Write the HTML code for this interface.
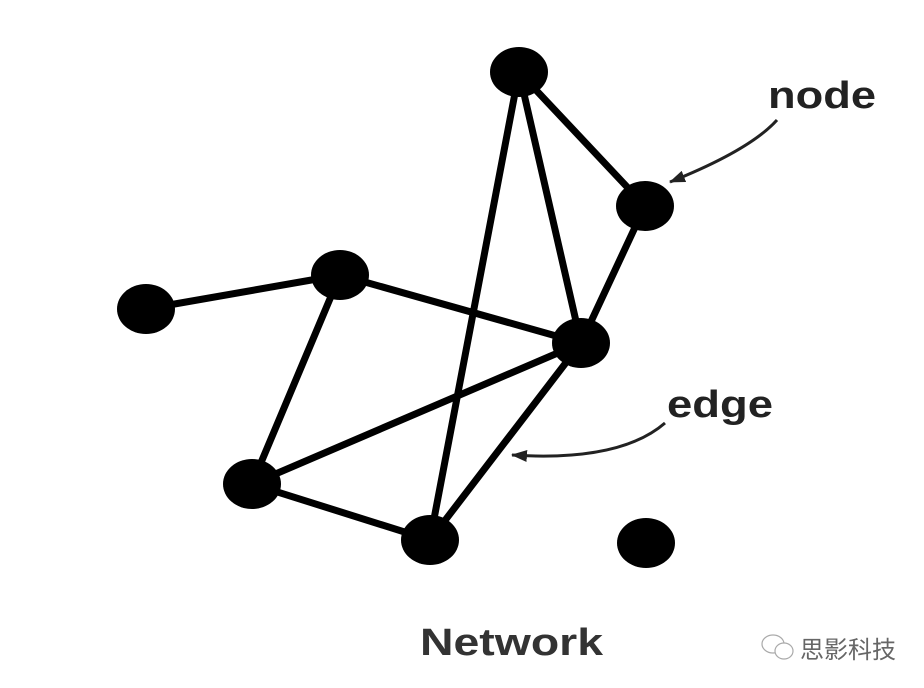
<!DOCTYPE html>
<html><head><meta charset="utf-8"><style>
html,body{margin:0;padding:0;background:#fff;width:924px;height:688px;overflow:hidden}
</style></head><body>
<svg width="924" height="688" viewBox="0 0 924 688" xmlns="http://www.w3.org/2000/svg">
<defs><marker id="ah" markerWidth="16" markerHeight="12" refX="15" refY="6" orient="auto" markerUnits="userSpaceOnUse">
<path d="M0,0 L16,6 L0,12 Z" fill="#222"/></marker></defs>
<g stroke="#000" stroke-width="7" stroke-linecap="round">
<line x1="519" y1="72" x2="645" y2="206"/>
<line x1="519" y1="72" x2="581" y2="343"/>
<line x1="519" y1="72" x2="430" y2="540"/>
<line x1="645" y1="206" x2="581" y2="343"/>
<line x1="340" y1="275" x2="146" y2="309"/>
<line x1="340" y1="275" x2="581" y2="343"/>
<line x1="340" y1="275" x2="252" y2="484"/>
<line x1="252" y1="484" x2="581" y2="343"/>
<line x1="252" y1="484" x2="430" y2="540"/>
<line x1="430" y1="540" x2="581" y2="343"/>
</g>
<g fill="#000">
<ellipse cx="519" cy="72" rx="29" ry="25"/>
<ellipse cx="645" cy="206" rx="29" ry="25"/>
<ellipse cx="340" cy="275" rx="29" ry="25"/>
<ellipse cx="146" cy="309" rx="29" ry="25"/>
<ellipse cx="581" cy="343" rx="29" ry="25"/>
<ellipse cx="252" cy="484" rx="29" ry="25"/>
<ellipse cx="430" cy="540" rx="29" ry="25"/>
<ellipse cx="646" cy="543" rx="29" ry="25"/>
</g>
<path d="M777,120 Q750,150 670,182" fill="none" stroke="#222" stroke-width="3" marker-end="url(#ah)"/>
<path d="M665,423 Q620,462 512,455" fill="none" stroke="#222" stroke-width="3" marker-end="url(#ah)"/>
<g font-family="Liberation Sans, sans-serif" font-weight="bold" fill="#222">
<text x="768" y="108" font-size="38" textLength="108" lengthAdjust="spacingAndGlyphs">node</text>
<text x="667" y="417" font-size="38" textLength="106" lengthAdjust="spacingAndGlyphs">edge</text>
<text x="420" y="655" font-size="38" fill="#333" textLength="183" lengthAdjust="spacingAndGlyphs">Network</text>
</g>
<g fill="none" stroke="#aaa" stroke-width="1.2">
<ellipse cx="773" cy="644" rx="11" ry="9"/>
<ellipse cx="784" cy="651" rx="9" ry="8" fill="#fff"/>
</g>
<text x="800" y="658" font-family="Liberation Sans, 'Noto Sans CJK SC', sans-serif" font-size="24" fill="#666">思影科技</text>
</svg>
</body></html>
